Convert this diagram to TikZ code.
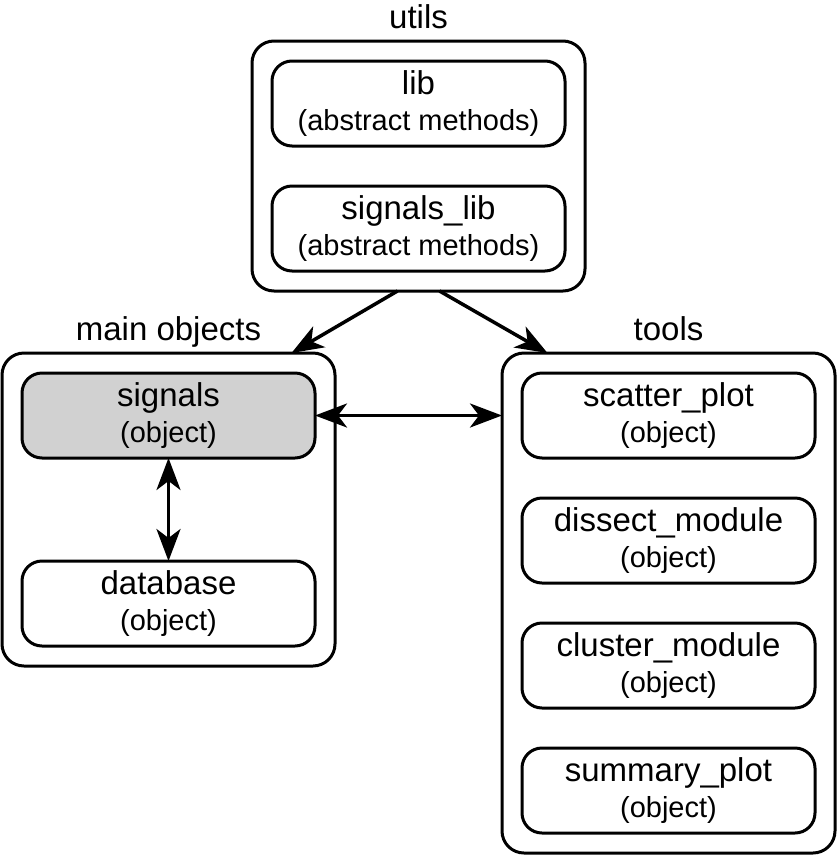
\documentclass[tikz,border=0pt]{standalone}
\usepackage{fontspec}
\setmainfont{Liberation Sans}
\usetikzlibrary{positioning, fit, arrows.meta}

\newcommand{\kind}[1]{{\fontsize{29}{36}\selectfont #1}}

\begin{document}
\begin{tikzpicture}[x=1pt, y=-1pt, node distance=40pt,
    >={Stealth[length=32pt, width=24pt, inset=9pt]},
    module/.style={draw, line width=3pt, rounded corners=20pt, outer sep=0pt,
      minimum width=293pt, minimum height=85pt, inner sep=0pt, align=center,
      font=\fontsize{33}{36}\selectfont},
    package/.style={draw, line width=3pt, rounded corners=22pt, outer sep=0pt,
      inner sep=20pt},
    pkglabel/.style={inner sep=0pt, text depth=0pt,
      font=\fontsize{33}{36}\selectfont},
    link/.style={line width=3.5pt}]
    \useasboundingbox (0,0) rectangle (837,855);

    \node[module] (lib) at (418.5,103.5) {lib\\\kind{(abstract methods)}};
    \node[module] (signalslib) [below = of lib] {signals\_lib\\\kind{(abstract methods)}};
    \node[package, fit=(lib)(signalslib)] (utils) {};
    \node[pkglabel] [above = 12pt of utils] {utils};

    \node[module, fill=black!18] (signals) at (168.5,415.5) {signals\\\kind{(object)}};
    \node[module] (database) [below = 103pt of signals] {database\\\kind{(object)}};
    \node[package, fit=(signals)(database)] (main) {};
    \node[pkglabel] [above = 12pt of main] {main objects};

    \node[module] (scatter) at (668.5,415.5) {scatter\_plot\\\kind{(object)}};
    \node[module] (dissect) [below = of scatter] {dissect\_module\\\kind{(object)}};
    \node[module] (cluster) [below = of dissect] {cluster\_module\\\kind{(object)}};
    \node[module] (summary) [below = of cluster] {summary\_plot\\\kind{(object)}};
    \node[package, fit=(scatter)(summary)] (tools) {};
    \node[pkglabel] [above = 12pt of tools] {tools};

    \draw[link, ->] ([xshift=-21pt]utils.south) -- ([xshift=123pt]main.north);
    \draw[link, ->] ([xshift=21pt]utils.south) -- ([xshift=-121pt]tools.north);
    \draw[link, <->] (signals.east) -- (signals.east -| tools.west);
    \draw[link, <->] (signals.south) -- (database.north);
\end{tikzpicture}
\end{document}
